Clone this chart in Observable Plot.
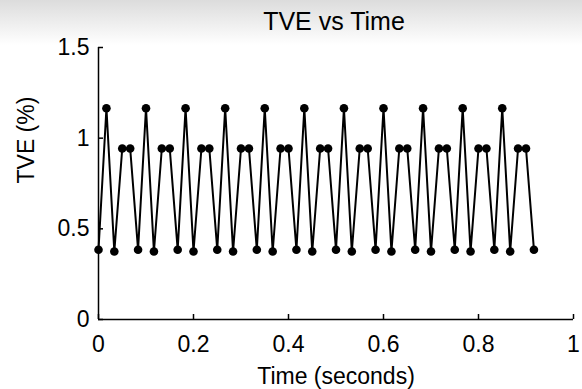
<!DOCTYPE html>
<html><head><meta charset="utf-8">
<script src="https://cdn.jsdelivr.net/npm/d3@7"></script>
<script src="https://cdn.jsdelivr.net/npm/@observablehq/plot@0.6"></script>
<style>html,body{margin:0;padding:0;background:#fff}</style>
</head><body><div id="chart"></div>
<script>
// Data (60 Hz samples)
const time = [0, 0.0167, 0.0333, 0.05, 0.0667, 0.0833, 0.1, 0.1167, 0.1333, 0.15,
  0.1667, 0.1833, 0.2, 0.2167, 0.2333, 0.25, 0.2667, 0.2833, 0.3, 0.3167,
  0.3333, 0.35, 0.3667, 0.3833, 0.4, 0.4167, 0.4333, 0.45, 0.4667, 0.4833,
  0.5, 0.5167, 0.5333, 0.55, 0.5667, 0.5833, 0.6, 0.6167, 0.6333, 0.65,
  0.6667, 0.6833, 0.7, 0.7167, 0.7333, 0.75, 0.7667, 0.7833, 0.8, 0.8167,
  0.8333, 0.85, 0.8667, 0.8833, 0.9, 0.9167];
const tve = [0.385, 1.165, 0.375, 0.943, 0.943, 0.385, 1.165, 0.375, 0.943, 0.943,
  0.385, 1.165, 0.375, 0.943, 0.943, 0.385, 1.165, 0.375, 0.943, 0.943,
  0.385, 1.165, 0.375, 0.943, 0.943, 0.385, 1.165, 0.375, 0.943, 0.943,
  0.385, 1.165, 0.375, 0.943, 0.943, 0.385, 1.165, 0.375, 0.943, 0.943,
  0.385, 1.165, 0.375, 0.943, 0.943, 0.385, 1.165, 0.375, 0.943, 0.943,
  0.385, 1.165, 0.375, 0.943, 0.943, 0.385];
const xTicks = [0, 0.2, 0.4, 0.6, 0.8, 1];
const yTicks = [0, 0.5, 1, 1.5];
const title = "TVE vs Time";
const xLabel = "Time (seconds)";
const yLabel = "TVE (%)";

const W = 582, H = 389, mL = 98, mR = 9, mT = 47, mB = 70;
const tickPx = 5;
const xTickLen = tickPx * (yTicks[yTicks.length - 1] - yTicks[0]) / (H - mT - mB);
const yTickLen = tickPx * (xTicks[xTicks.length - 1] - xTicks[0]) / (W - mL - mR);
const data = time.map((t, i) => ({t, v: tve[i]}));
const font = "'Liberation Sans', Arial, Helvetica, sans-serif";
const fmt = d => String(d);

const chart = Plot.plot({
  width: W, height: H,
  marginLeft: mL, marginRight: mR, marginTop: mT, marginBottom: mB,
  style: {fontFamily: font, background: "linear-gradient(#dcdcdc 0px, #ffffff 45px)", color: "#000", overflow: "visible"},
  x: {domain: [xTicks[0], xTicks[xTicks.length - 1]]},
  y: {domain: [yTicks[0], yTicks[yTicks.length - 1]]},
  marks: [
    Plot.ruleY([0], {stroke: "#000", strokeWidth: 1.5}),
    Plot.ruleX([0], {stroke: "#000", strokeWidth: 1.5}),
    Plot.ruleX(xTicks, {x: d => d, y1: 0, y2: xTickLen, stroke: "#000", strokeWidth: 1.5}),
    Plot.ruleY(yTicks, {y: d => d, x1: 0, x2: yTickLen, stroke: "#000", strokeWidth: 1.5}),
    Plot.axisX(xTicks, {tickSize: 0, tickPadding: 16, fontSize: 23, label: null, fill: "#000", tickFormat: fmt}),
    Plot.axisY(yTicks, {tickSize: 0, tickPadding: 9, fontSize: 23, label: null, fill: "#000", tickFormat: fmt}),
    Plot.line(data, {x: "t", y: "v", stroke: "#000", strokeWidth: 2}),
    Plot.dot(data, {x: "t", y: "v", r: 4.3, fill: "#000", stroke: null}),
    Plot.text([title], {frameAnchor: "top", lineAnchor: "middle", dy: -26, dx: -2, fontSize: 25, fill: "#000"}),
    Plot.text([xLabel], {frameAnchor: "bottom", lineAnchor: "middle", dy: 57, fontSize: 23, fill: "#000"}),
    Plot.text([yLabel], {frameAnchor: "left", lineAnchor: "middle", dx: -72, rotate: -90, fontSize: 23, fill: "#000"})
  ]
});
document.getElementById("chart").appendChild(chart);
</script>
</body></html>
